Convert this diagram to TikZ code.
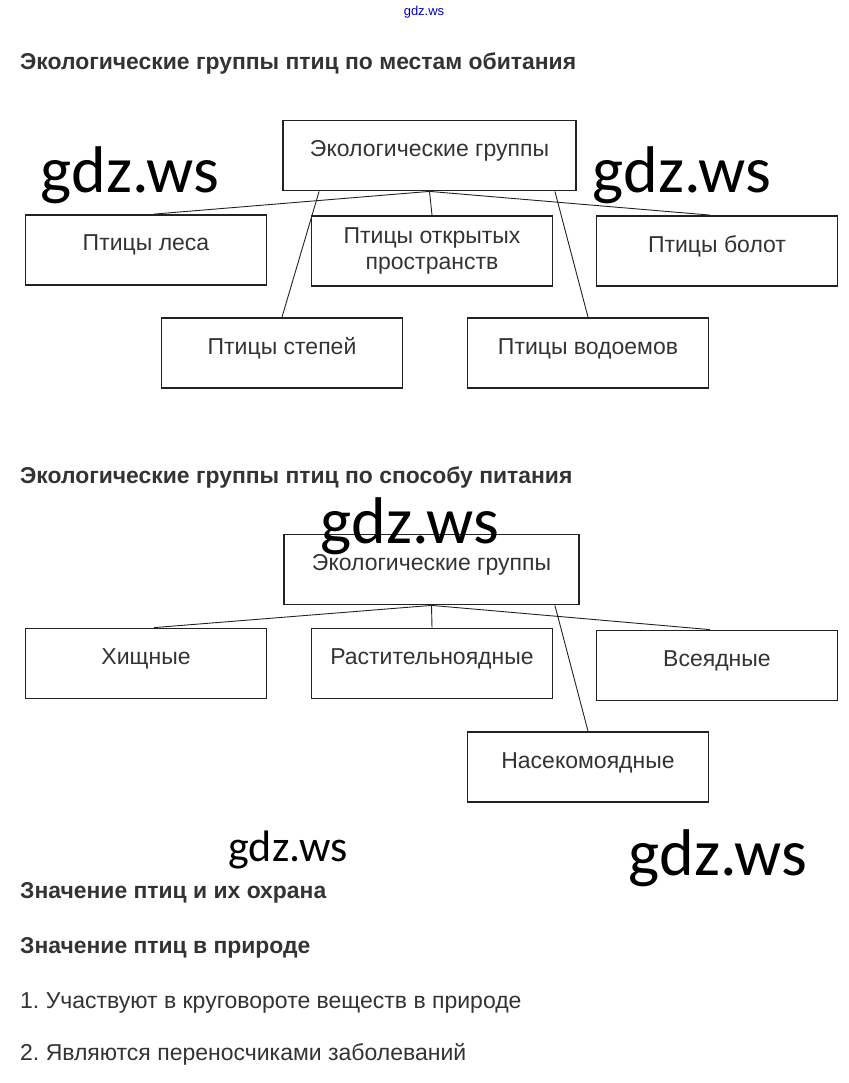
\documentclass[tikz,border=0pt]{standalone}
\usepackage{fontspec}
\setmainfont{Liberation Sans}
\newfontfamily\wmfont{Carlito}
\usetikzlibrary{positioning}
\frenchspacing

\definecolor{ink}{HTML}{333333}
\definecolor{frame}{HTML}{222222}

\tikzset{
  heading/.style={anchor=base west,inner sep=0pt,text=ink,font=\fontsize{22.9}{26}\selectfont\bfseries},
  plain/.style={anchor=base west,inner sep=0pt,text=ink,font=\fontsize{23}{26}\selectfont},
  group/.style={draw=frame,line width=1.8pt,minimum width=241pt,minimum height=70pt,
    align=center,text=ink,inner sep=0pt,font=\fontsize{23}{26}\selectfont},
  oneline/.style={text height=16pt,text depth=14pt},
  link/.style={draw=frame,line width=0.9pt},
  wmark/.style={inner sep=0pt,font=\wmfont\fontsize{66}{66}\selectfont},
}

\begin{document}
\begin{tikzpicture}[x=1pt,y=-1pt]
  \useasboundingbox (0,0) rectangle (848,1083);
  \node[inner sep=0pt,text=blue!75!black,font=\fontsize{13}{13}\selectfont] (src) at (424,12) {gdz.ws};

  % habitats
  \node[heading] (h1) at (20,70) {Экологические группы птиц по местам обитания};
  \node[group,oneline,minimum width=293pt] (eco) at (429.5,155.5) {Экологические группы};
  \node[group,oneline] (forest) at (146,250) {Птицы леса};
  \node[group,yshift=-1pt] (open) at (432,250) {Птицы открытых\\пространств};
  \node[group,oneline] (bog) at (717,251) {Птицы болот};
  \node[group,oneline] (steppe) at (282,353) {Птицы степей};
  \node[group,oneline] (water) at (588,353) {Птицы водоемов};
  \path[link]
    (eco.south) edge ([xshift=8pt]forest.north)
    (eco.south) edge (open.north)
    (eco.south) edge ([xshift=-7pt]bog.north)
    ([xshift=37pt]eco.south west) edge (steppe.north)
    ([xshift=-22pt]eco.south east) edge (water.north);

  % feeding
  \node[heading] (h2) at (20,483.5) {Экологические группы птиц по способу питания};
  \node[group,oneline,minimum width=295pt] (eco2) at (431.5,569.5) {Экологические группы};
  \node[group,oneline] (pred) at (146,663.5) {Хищные};
  \node[group,oneline] (herb) at (432,663.5) {Растительноядные};
  \node[group,oneline] (omni) at (717,665.5) {Всеядные};
  \node[group,oneline] (insect) at (588,767) {Насекомоядные};
  \path[link]
    (eco2.south) edge ([xshift=8pt]pred.north)
    (eco2.south) edge (herb.north)
    (eco2.south) edge ([xshift=-7pt]omni.north)
    ([xshift=-25pt]eco2.south east) edge (insect.north);

  % text
  \node[heading] (h3) at (20,898.5) {Значение птиц и их охрана};
  \node[heading] (h4) at (20,953.5) {Значение птиц в природе};
  \node[plain] (p1) at (20,1008) {1. Участвуют в круговороте веществ в природе};
  \node[plain] (p2) at (20,1060) {2. Являются переносчиками заболеваний};

  % watermarks
  \node[wmark] (w1) at (130,175) {gdz.ws};
  \node[wmark] (w2) at (682,175) {gdz.ws};
  \node[wmark] (w3) at (410,526) {gdz.ws};
  \node[wmark,font=\wmfont\fontsize{44}{44}\selectfont] (w4) at (288,850) {gdz.ws};
  \node[wmark] (w5) at (718,858) {gdz.ws};
\end{tikzpicture}
\end{document}
